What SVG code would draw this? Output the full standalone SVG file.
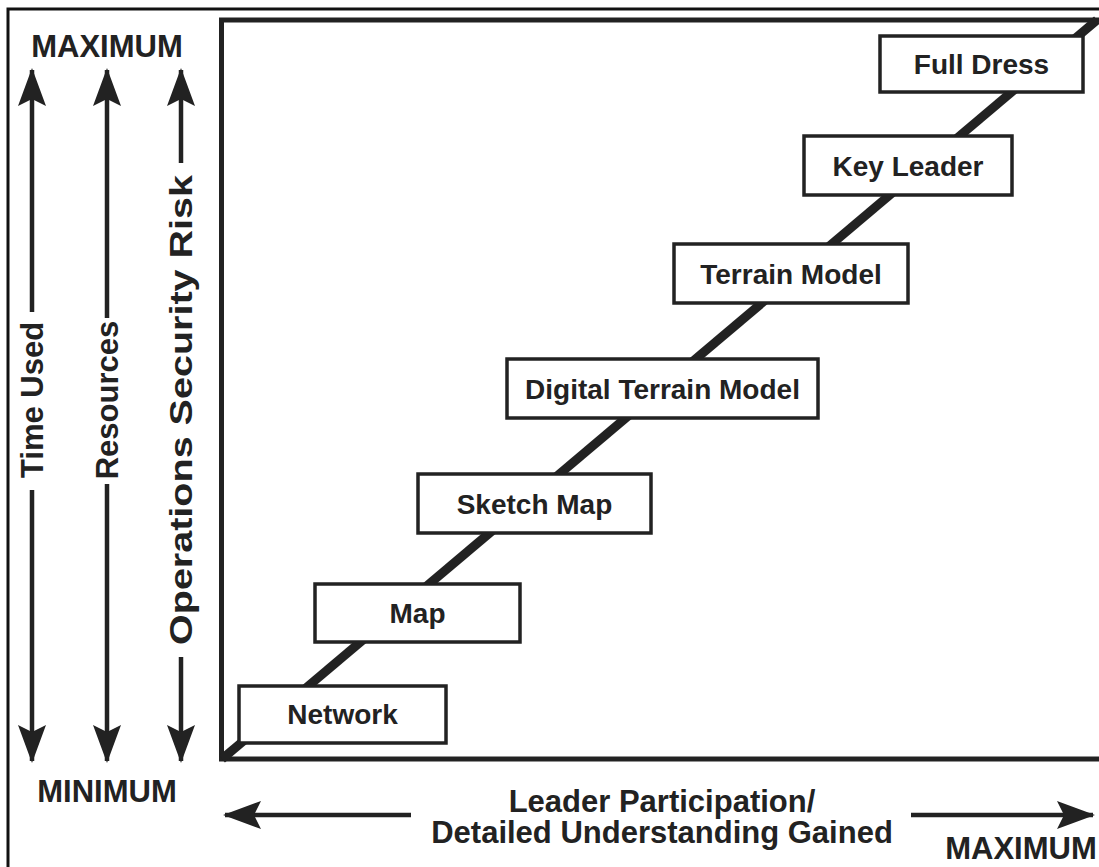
<svg xmlns="http://www.w3.org/2000/svg" width="1099" height="867" viewBox="0 0 1099 867">
<style>
.t{font-family:"Liberation Sans",Arial,sans-serif;font-weight:bold;fill:#222}
.bx{fill:#fff;stroke:#222;stroke-width:3.5}
.bl{font-size:28px;text-anchor:middle}
.ax{stroke:#222;stroke-width:4.5;fill:none}
.big{font-size:31px}
</style>
<defs>
<marker id="ah" markerUnits="userSpaceOnUse" markerWidth="40" markerHeight="32" viewBox="-38 -16 40 32" refX="0" refY="0" orient="auto">
<path d="M2,0 L-36,-14 L-29,0 L-36,14 Z" fill="#222"/>
</marker>
</defs>
<rect x="8" y="9" width="1200" height="1000" fill="none" stroke="#111" stroke-width="3"/>
<rect x="221.5" y="20" width="1000" height="739" fill="#fff" stroke="#222" stroke-width="5"/>
<g id="connectors">
<line x1="222" y1="759" x2="1097" y2="20" stroke="#222" stroke-width="9"/>
<line class="ax" x1="32" y1="312" x2="32" y2="70" marker-end="url(#ah)"/>
<line class="ax" x1="32" y1="490" x2="32" y2="761" marker-end="url(#ah)"/>
<line class="ax" x1="107" y1="318" x2="107" y2="70" marker-end="url(#ah)"/>
<line class="ax" x1="107" y1="484" x2="107" y2="761" marker-end="url(#ah)"/>
<line class="ax" x1="181" y1="163" x2="181" y2="70" marker-end="url(#ah)"/>
<line class="ax" x1="181" y1="657" x2="181" y2="761" marker-end="url(#ah)"/>
<line class="ax" x1="411" y1="815" x2="225" y2="815" marker-end="url(#ah)"/>
<line class="ax" x1="911" y1="815" x2="1093" y2="815" marker-end="url(#ah)"/>
</g>
<g id="axis-labels">
<text class="t big" x="107" y="57" text-anchor="middle">MAXIMUM</text>
<text class="t big" x="107" y="802" text-anchor="middle">MINIMUM</text>
<text class="t big" x="1021" y="859" text-anchor="middle">MAXIMUM</text>
<text class="t big" x="662" y="812" text-anchor="middle">Leader Participation/</text>
<text class="t big" x="662" y="843" text-anchor="middle">Detailed Understanding Gained</text>
<text class="t big" transform="translate(32,400) rotate(-90)" x="0" y="11" text-anchor="middle">Time Used</text>
<text class="t big" transform="translate(107,400) rotate(-90)" x="0" y="11" text-anchor="middle">Resources</text>
<text class="t big" transform="translate(181,410) rotate(-90)" x="0" y="11" text-anchor="middle" textLength="470" lengthAdjust="spacingAndGlyphs">Operations Security Risk</text>
</g>
<g id="network"><rect class="bx" x="239" y="686" width="207" height="57"/><text class="t bl" x="342.5" y="724">Network</text></g>
<g id="map"><rect class="bx" x="315" y="584" width="205" height="58"/><text class="t bl" x="417.5" y="623">Map</text></g>
<g id="sketch-map"><rect class="bx" x="418" y="474" width="233" height="59"/><text class="t bl" x="534.5" y="513.5">Sketch Map</text></g>
<g id="digital-terrain-model"><rect class="bx" x="507" y="359" width="311" height="59"/><text class="t bl" x="662.5" y="398.5">Digital Terrain Model</text></g>
<g id="terrain-model"><rect class="bx" x="674" y="244" width="234" height="59"/><text class="t bl" x="791" y="283.5">Terrain Model</text></g>
<g id="key-leader"><rect class="bx" x="804" y="136" width="208" height="59"/><text class="t bl" x="908" y="175.5">Key Leader</text></g>
<g id="full-dress"><rect class="bx" x="880" y="36" width="203" height="56"/><text class="t bl" x="981.5" y="74">Full Dress</text></g>
</svg>
